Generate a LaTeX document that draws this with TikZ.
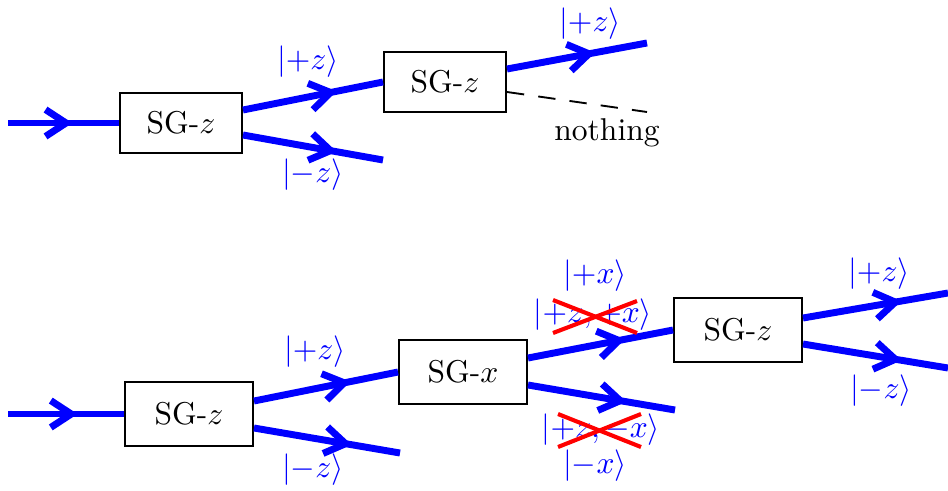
\documentclass[tikz,border=0pt]{standalone}
\usetikzlibrary{arrows.meta,decorations.markings,calc}
\begin{document}
\begin{tikzpicture}[x=0.317pt,y=-0.317pt,
  beam/.style={blue, line width=2.2pt, postaction={decorate},
    decoration={markings, mark=at position #1 with {\arrow{Straight Barb[length=6.5pt,width=8.5pt,line width=2.2pt]}}}},
  beam/.default=0.62,
  sg/.style={draw, line width=0.6pt, minimum width=38.7pt, minimum height=19pt, inner sep=0pt, fill=white},
  sgb/.style={sg, minimum width=40.6pt, minimum height=20.3pt},
  ket/.style={blue, inner sep=0pt},
  crossout/.style={red, line width=1.3pt}]
\useasboundingbox (0,0) rectangle (948,490);

% ---------- top row ----------
\coordinate (s1) at (8,123);
\node[sg] (b1) at (181,123) {SG-$z$};
\node[sg] (b2) at (445,82) {SG-$z$};
\coordinate (e1) at (383,160);
\coordinate (e2) at (647,43);
\coordinate (e3) at (647,112);
\draw[beam=0.58] (s1) -- (b1.west);
\draw[beam=0.67] ($(b1.east)+(0,-13)$) -- (b2.west);
\draw[beam=0.67] ($(b1.east)+(0,12)$) -- (e1);
\draw[beam=0.63] ($(b2.east)+(0,-13)$) -- (e2);
\draw[black, line width=0.6pt, dash pattern=on 5.5pt off 4.5pt] ($(b2.east)+(0,10)$) -- (e3);
\node (nth) at (607,133) {nothing};
\node[ket] (t1) at (308,62) {$|{+}z\rangle$};
\node[ket] (t2) at (313,175) {$|{-}z\rangle$};
\node[ket] (t3) at (590,24) {$|{+}z\rangle$};

% ---------- bottom row ----------
\coordinate (s2) at (8,414);
\node[sgb] (b3) at (189,414) {SG-$z$};
\node[sgb] (b4) at (463,372) {SG-$x$};
\node[sgb] (b5) at (738,330) {SG-$z$};
\coordinate (e4) at (400,453);
\coordinate (e5) at (675,410);
\coordinate (e6) at (948,293);
\coordinate (e7) at (948,368);
\draw[beam=0.6] (s2) -- (b3.west);
\draw[beam=0.67] ($(b3.east)+(0,-13)$) -- (b4.west);
\draw[beam=0.67] ($(b3.east)+(0,14)$) -- (e4);
\draw[beam=0.67] ($(b4.east)+(0,-14)$) -- (b5.west);
\draw[beam=0.67] ($(b4.east)+(0,13)$) -- (e5);
\draw[beam=0.68] ($(b5.east)+(0,-12)$) -- (e6);
\draw[beam=0.68] ($(b5.east)+(0,14)$) -- (e7);

\node[ket] (u1) at (315,352) {$|{+}z\rangle$};
\node[ket] (u2) at (313,470) {$|{-}z\rangle$};
\node[ket] (u3) at (595,276) {$|{+}x\rangle$};
\node[ket] (u4) at (593,315) {$|{+}z,{+}x\rangle$};
\node[ket] (u5) at (601,430) {$|{+}z,{-}x\rangle$};
\node[ket] (u6) at (595,466) {$|{-}x\rangle$};
\node[ket] (u7) at (879,274) {$|{+}z\rangle$};
\node[ket] (u8) at (881,391) {$|{-}z\rangle$};

\draw[crossout] (553,300) -- (637,333);
\draw[crossout] (553,333) -- (637,301);
\draw[crossout] (558,414) -- (641,447);
\draw[crossout] (558,447) -- (641,414);
\end{tikzpicture}
\end{document}
